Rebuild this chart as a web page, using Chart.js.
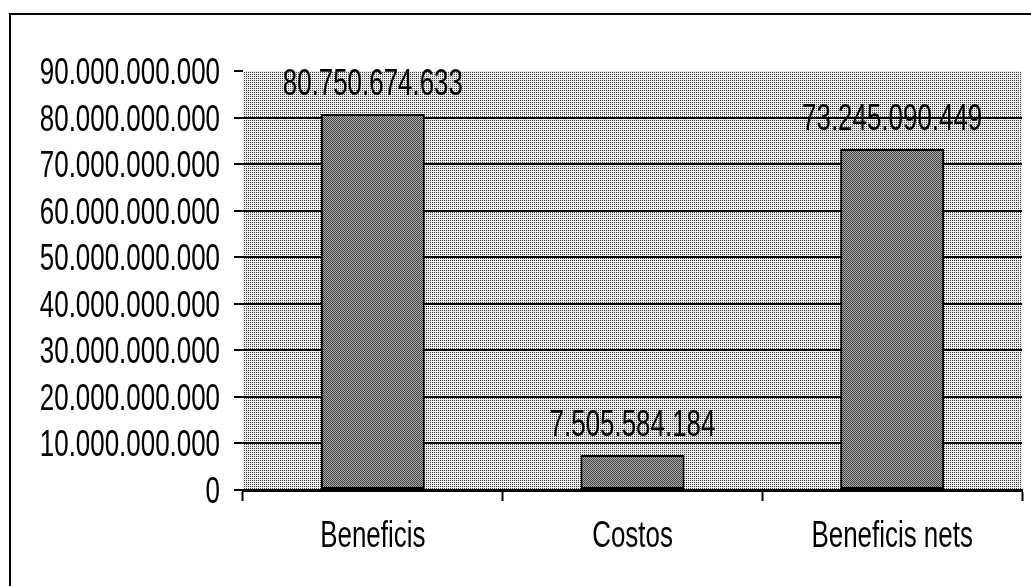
<!DOCTYPE html>
<html>
<head>
<meta charset="utf-8">
<script src="https://cdn.jsdelivr.net/npm/chart.js@4/dist/chart.umd.min.js"></script>
<style>
  html, body { margin: 0; padding: 0; background: #fff; }
  #wrap { width: 1031px; height: 586px; }
</style>
</head>
<body>
<div id="wrap"><canvas id="myChart" width="1031" height="586"></canvas></div>
<script>
// data
var categories = ["Beneficis", "Costos", "Beneficis nets"];
var values = [80750674633, 7505584184, 73245090449];
var yTicks = [0, 10e9, 20e9, 30e9, 40e9, 50e9, 60e9, 70e9, 80e9, 90e9];

var FONT = '"Liberation Sans", Arial, sans-serif';
var FONT_SIZE = 36;
var SQUEEZE = 0.72; // the original lettering is strongly condensed

function fmt(v) {
    return String(Math.round(v)).replace(/\B(?=(\d{3})+(?!\d))/g, ".");
}

// condensed text: baseline at y
function narrowText(c, text, x, y, align) {
    c.save();
    c.translate(x, y);
    c.scale(SQUEEZE, 1);
    c.font = FONT_SIZE + "px " + FONT;
    c.fillStyle = "#000";
    c.textAlign = align;
    c.textBaseline = "alphabetic";
    c.fillText(text, 0, 0);
    c.restore();
}

// dithered fills like the scanned original
function makePattern(bg, dot, pts) {
    var c = document.createElement("canvas");
    c.width = 4; c.height = 4;
    var g = c.getContext("2d");
    g.fillStyle = bg; g.fillRect(0, 0, 4, 4);
    g.fillStyle = dot;
    pts.forEach(function (p) { g.fillRect(p[0], p[1], 1, 1); });
    return g.createPattern(c, "repeat");
}
var ctx = document.getElementById("myChart").getContext("2d");
var plotFill = makePattern("#ebebeb", "#404040", [[0, 0], [2, 0], [0, 2], [2, 2]]);
var barFill = makePattern("#b0b0b0", "#3c3c3c",
    [[0, 0], [2, 0], [1, 1], [3, 1], [0, 2], [2, 2], [1, 3], [3, 3]]);

var framePlugin = {
    id: "frame",
    beforeDraw: function (chart) {
        var c = chart.ctx, a = chart.chartArea;
        c.save();
        c.fillStyle = plotFill;
        c.fillRect(a.left, a.top, a.right - a.left, a.bottom - a.top);
        // outer border (top and left only, rest is cropped off)
        c.strokeStyle = "#000";
        c.lineWidth = 2;
        c.beginPath();
        c.moveTo(10, 586);
        c.lineTo(10, 14);
        c.lineTo(1031, 14);
        c.stroke();
        c.restore();
    },
    afterDraw: function (chart) {
        var c = chart.ctx;
        var xs = chart.scales.x, ys = chart.scales.y;
        yTicks.forEach(function (v) {
            narrowText(c, fmt(v), 220, ys.getPixelForValue(v) + 13, "right");
        });
        categories.forEach(function (name, i) {
            narrowText(c, name, xs.getPixelForValue(i), 547, "center");
        });
    }
};

var labelPlugin = {
    id: "valueLabels",
    afterDatasetsDraw: function (chart) {
        var c = chart.ctx;
        var meta = chart.getDatasetMeta(0);
        meta.data.forEach(function (bar, i) {
            narrowText(c, fmt(values[i]), bar.x, bar.y - 19, "center");
        });
    }
};

var myChart = new Chart(ctx, {
    type: "bar",
    data: {
        labels: categories,
        datasets: [{
            data: values,
            backgroundColor: barFill,
            borderColor: "#000",
            borderWidth: 2,
            borderSkipped: false,
            categoryPercentage: 1,
            barPercentage: 0.4
        }]
    },
    options: {
        responsive: false,
        animation: false,
        layout: { padding: { left: 0, right: 9, top: 71, bottom: 0 } },
        plugins: { legend: { display: false }, tooltip: { enabled: false } },
        scales: {
            x: {
                offset: true,
                grid: {
                    offset: true,
                    drawOnChartArea: false,
                    tickLength: 11,
                    tickWidth: 2,
                    tickColor: "#000"
                },
                border: { display: true, color: "#000", width: 3 },
                ticks: { display: false },
                afterFit: function (s) { s.height = 96; }
            },
            y: {
                min: 0,
                max: 90e9,
                afterBuildTicks: function (s) {
                    s.ticks = yTicks.map(function (v) { return { value: v }; });
                },
                grid: {
                    color: function (c) { return c.tick && c.tick.value === 90e9 ? "rgba(0,0,0,0)" : "#000"; },
                    lineWidth: 2,
                    tickColor: "#000",
                    tickLength: 9,
                    tickWidth: 2
                },
                border: { display: false },
                ticks: { display: false },
                afterFit: function (s) { s.width = 243; }
            }
        }
    },
    plugins: [framePlugin, labelPlugin]
});
</script>
</body>
</html>
